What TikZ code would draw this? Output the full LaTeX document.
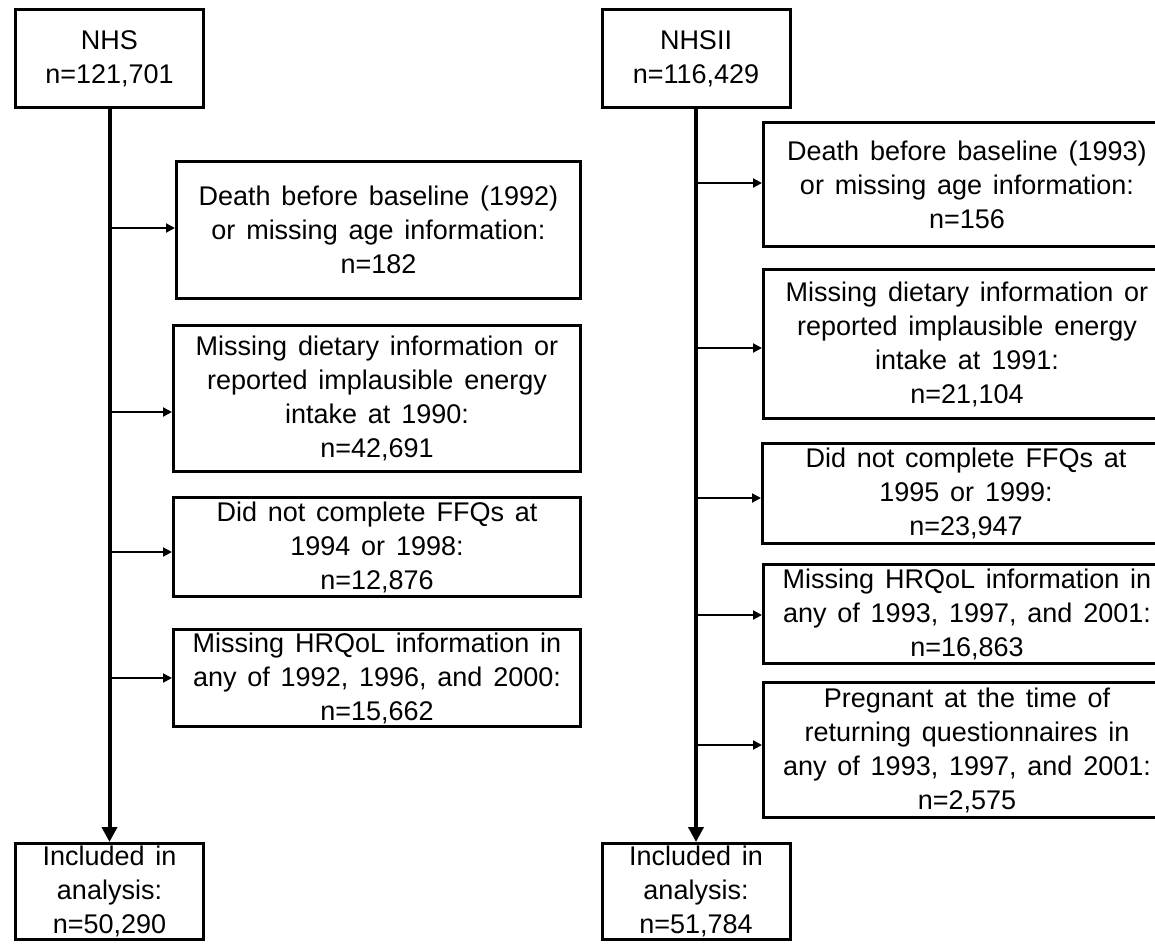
\documentclass[tikz,border=0pt]{standalone}
\usepackage{fontspec}
\setmainfont{Liberation Sans}
\usetikzlibrary{arrows.meta}
\newcommand{\boxfont}{\fontsize{27}{34}\selectfont\spaceskip=0.4em\relax}

\begin{document}
\begin{tikzpicture}[x=1pt,y=-1pt,
    cohort/.style={draw,line width=3pt,inner sep=0pt,align=center,minimum width=188pt,font=\boxfont},
    excl/.style={draw,line width=3pt,inner sep=0pt,align=center,minimum width=407pt,font=\boxfont},
    trunk/.style={line width=4pt,-{Triangle[length=15pt,width=15pt]}},
    branch/.style={line width=2pt,-{Triangle[length=9pt,width=9pt]}}]
\useasboundingbox (0,0) rectangle (1155,943);
\clip (0,0) rectangle (1155,943);
% NHS
\node[cohort,minimum height=98pt] (nhs) at (109.5,58.5) {NHS\\n=121,701};
\node[excl,minimum width=404pt,minimum height=137pt] (la) at (378.5,230) {Death before baseline (1992)\\or missing age information:\\n=182};
\node[excl,minimum height=146pt] (lb) at (377,398.5) {Missing dietary information or\\reported implausible energy\\intake at 1990:\\n=42,691};
\node[excl,minimum height=99pt] (lc) at (377,547) {Did not complete FFQs at\\1994 or 1998:\\n=12,876};
\node[excl,minimum height=97pt] (ld) at (377,678) {Missing HRQoL information in\\any of 1992, 1996, and 2000:\\n=15,662};
\node[cohort,minimum height=96pt] (nhsin) at (109.5,891.5) {Included in\\analysis:\\n=50,290};
\draw[trunk] (nhs) -- (nhsin);
\foreach \y/\b in {228/la,412/lb,552/lc,678/ld}{
  \coordinate (t\b) at (109.5,\y);
  \draw[branch] (t\b) -- (t\b -| \b.west);
}
% NHSII
\node[cohort,minimum height=98pt] (nhsii) at (696,58.5) {NHSII\\n=116,429};
\node[excl,minimum height=124pt] (ra) at (967,184.5) {Death before baseline (1993)\\or missing age information:\\n=156};
\node[excl,minimum height=149pt] (rb) at (967,344) {Missing dietary information or\\reported implausible energy\\intake at 1991:\\n=21,104};
\node[excl,minimum height=100pt] (rc) at (966,493.5) {Did not complete FFQs at\\1995 or 1999:\\n=23,947};
\node[excl,minimum height=99pt] (rd) at (967,614) {Missing HRQoL information in\\any of 1993, 1997, and 2001:\\n=16,863};
\node[excl,minimum height=135pt] (re) at (967,750) {Pregnant at the time of\\returning questionnaires in\\any of 1993, 1997, and 2001:\\n=2,575};
\node[cohort,minimum height=96pt] (nhsiiin) at (696,891.5) {Included in\\analysis:\\n=51,784};
\draw[trunk] (nhsii) -- (nhsiiin);
\foreach \y/\b in {183/ra,348/rb,498/rc,615/rd,745/re}{
  \coordinate (t\b) at (696,\y);
  \draw[branch] (t\b) -- (t\b -| \b.west);
}
\end{tikzpicture}
\end{document}
